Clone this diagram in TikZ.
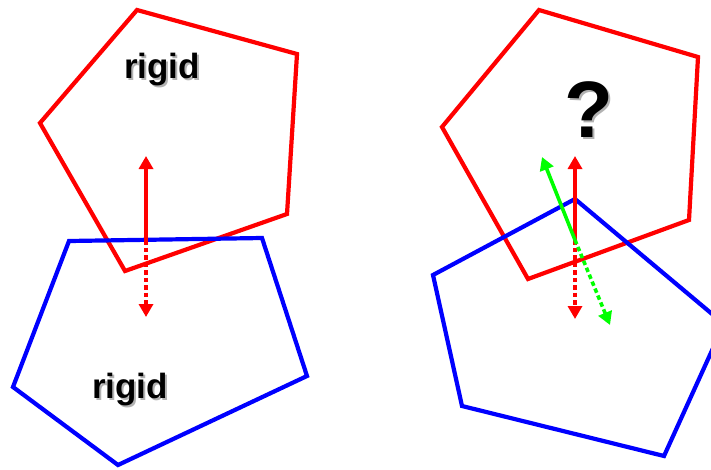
\documentclass[tikz,border=0pt]{standalone}
\usepackage{fontspec}
\setmainfont{Liberation Sans}
\usetikzlibrary{arrows.meta}
\newcommand{\shadowtext}[1]{\makebox[0pt][l]{\hspace{2pt}\raisebox{-2pt}{\textcolor{black!30}{#1}}}#1}
\begin{document}
\begin{tikzpicture}[x=1pt,y=-1pt,
  poly/.style={line width=4.2pt, line join=miter},
  redpoly/.style={poly, draw={rgb,255:red,255;green,0;blue,0}},
  bluepoly/.style={poly, draw={rgb,255:red,0;green,0;blue,255}},
  vec/.style={line width=3.6pt, -{Triangle[length=13pt,width=14pt]}},
  dotvec/.style={vec, dash pattern=on 4.5pt off 3pt},
  lbl/.style={font=\fontsize{35}{42}\selectfont\bfseries, anchor=base, inner sep=0pt},
  qm/.style={font=\fontsize{80}{90}\selectfont\bfseries, anchor=base, inner sep=0pt}
]
\useasboundingbox (0,0) rectangle (711,469);
\clip (0,0) rectangle (711,469);
% left pair
\coordinate (lr1) at (137,10);
\coordinate (lr2) at (297,54);
\coordinate (lr3) at (287,214);
\coordinate (lr4) at (125,271);
\coordinate (lr5) at (40,123);
\draw[redpoly] (lr1) -- (lr2) -- (lr3) -- (lr4) -- (lr5) -- cycle;
\coordinate (lb1) at (69,241);
\coordinate (lb2) at (262,238);
\coordinate (lb3) at (307,376);
\coordinate (lb4) at (118,465);
\coordinate (lb5) at (13,387);
\draw[bluepoly] (lb1) -- (lb2) -- (lb3) -- (lb4) -- (lb5) -- cycle;
\coordinate (lo) at (146,240);
\coordinate (lup) at (146,156);
\coordinate (ldn) at (146,317);
\draw[vec, red] (lo) -- (lup);
\draw[dotvec, red] (lo) -- (ldn);
\node[lbl] (t1) at (162,78) {\shadowtext{rigid}};
\node[lbl] (t2) at (130,398) {\shadowtext{rigid}};
% right pair
\coordinate (rr1) at (539,10);
\coordinate (rr2) at (698,57);
\coordinate (rr3) at (689,220);
\coordinate (rr4) at (528,279);
\coordinate (rr5) at (442,127);
\draw[redpoly] (rr1) -- (rr2) -- (rr3) -- (rr4) -- (rr5) -- cycle;
\coordinate (rb1) at (575,199);
\coordinate (rb2) at (724,324);
\coordinate (rb3) at (664,456);
\coordinate (rb4) at (462,406);
\coordinate (rb5) at (433,275);
\draw[bluepoly] (rb1) -- (rb2) -- (rb3) -- (rb4) -- (rb5) -- cycle;
\coordinate (ro) at (575,240);
\coordinate (rup) at (575,156);
\coordinate (rdn) at (575,319);
\coordinate (gup) at (542,157);
\coordinate (gdn) at (610,325);
\draw[vec, red] (ro) -- (rup);
\draw[dotvec, red] (ro) -- (rdn);
\draw[vec, green] (ro) -- (gup);
\draw[dotvec, green] (ro) -- (gdn);
\node[qm] (q) at (589,137) {\shadowtext{?}};
\end{tikzpicture}
\end{document}
